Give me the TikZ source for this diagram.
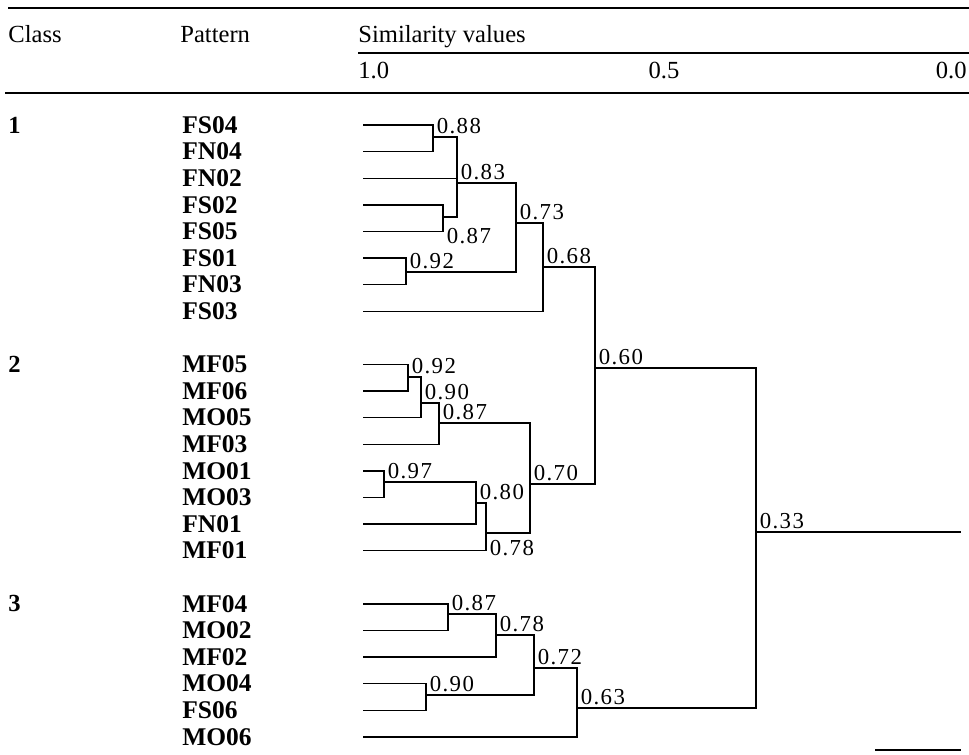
\documentclass[tikz,border=0pt]{standalone}
\usepackage{fontspec}
\setmainfont{Liberation Serif}
\newfontfamily\labfont[LetterSpace=6]{Liberation Serif}
\usetikzlibrary{positioning, calc}

\begin{document}
\begin{tikzpicture}[
    x=0.02cm, y=-0.02cm,
    head/.style={anchor=base west, inner sep=0pt, font=\fontsize{14}{16}\selectfont},
    classnum/.style={anchor=west, inner sep=0pt, font=\fontsize{14}{16}\selectfont\bfseries},
    patname/.style={anchor=west, inner sep=0pt, font=\fontsize{14.5}{16}\selectfont\bfseries},
    simlabel/.style={anchor=south west, inner xsep=2pt, inner ysep=1.5pt, font=\labfont\fontsize{13}{15}\selectfont},
    edge/.style={line width=0.8pt},
    tablerule/.style={line width=1.1pt},
    thinrule/.style={line width=0.8pt}
]
\useasboundingbox (0,0) rectangle (969,754);

% Kopf der Tabelle
\draw[tablerule] (8,8) -- (969,8);
\node[head] (hclass) at (8,42) {Class};
\node[head] (hpat) at (180,42) {Pattern};
\node[head] (hsim) at (358,42) {Similarity values};
\draw[thinrule] (358,53) -- (969,53);
\node[head] (s10) at (358,78) {1.0};
\node[head, anchor=base] (s05) at (664,78) {0.5};
\node[head, anchor=base east] (s00) at (967,78) {0.0};
\draw[tablerule] (5,93) -- (969,93);

% Klassen
\node[classnum] (cl1) at (8,125) {1};
\node[classnum] (cl2) at (8,364.4) {2};
\node[classnum] (cl3) at (8,603.8) {3};

% Muster
\node[patname] (FS04) at (182,125) {FS04};
\node[patname] (FN04) at (182,151.6) {FN04};
\node[patname] (FN02) at (182,178.2) {FN02};
\node[patname] (FS02) at (182,204.8) {FS02};
\node[patname] (FS05) at (182,231.4) {FS05};
\node[patname] (FS01) at (182,258) {FS01};
\node[patname] (FN03) at (182,284.6) {FN03};
\node[patname] (FS03) at (182,311.2) {FS03};
\node[patname] (MF05) at (182,364.4) {MF05};
\node[patname] (MF06) at (182,391) {MF06};
\node[patname] (MO05) at (182,417.6) {MO05};
\node[patname] (MF03) at (182,444.2) {MF03};
\node[patname] (MO01) at (182,470.8) {MO01};
\node[patname] (MO03) at (182,497.4) {MO03};
\node[patname] (FN01) at (182,524) {FN01};
\node[patname] (MF01) at (182,550.6) {MF01};
\node[patname] (MF04) at (182,603.8) {MF04};
\node[patname] (MO02) at (182,630.4) {MO02};
\node[patname] (MF02) at (182,657) {MF02};
\node[patname] (MO04) at (182,683.6) {MO04};
\node[patname] (FS06) at (182,710.2) {FS06};
\node[patname] (MO06) at (182,736.8) {MO06};

% Verzweigungspunkte
\coordinate (lx) at (363,0);
\coordinate (j88) at (433,137);
\coordinate (j87a) at (443,217);
\coordinate (j83) at (457,183);
\coordinate (j92a) at (406,272);
\coordinate (j73) at (516,223);
\coordinate (j68) at (543,267);
\coordinate (j92b) at (408,377);
\coordinate (j90a) at (421,403);
\coordinate (j87b) at (439,423);
\coordinate (j97) at (384,482);
\coordinate (j80) at (476,503);
\coordinate (j78a) at (486,533);
\coordinate (j70) at (530,484);
\coordinate (j60) at (595,368);
\coordinate (j87c) at (448,614);
\coordinate (j78b) at (496,635);
\coordinate (j90b) at (426,695);
\coordinate (j72) at (534,668);
\coordinate (j63) at (577,708);
\coordinate (j33) at (756,532);
\coordinate (root) at (961,532);

% Kanten Klasse 1
\draw[edge] (FS04.west -| lx) -| (j88) |- (FN04.west -| lx);
\draw[edge] (FS02.west -| lx) -| (j87a) |- (FS05.west -| lx);
\draw[edge] (j88) -| (j83) |- (j87a);
\draw[edge] (FN02.west -| lx) -| (j83);
\draw[edge] (FS01.west -| lx) -| (j92a) |- (FN03.west -| lx);
\draw[edge] (j83) -| (j73) |- (j92a);
\draw[edge] (j73) -| (j68) |- (FS03.west -| lx);

% Kanten Klasse 2
\draw[edge] (MF05.west -| lx) -| (j92b) |- (MF06.west -| lx);
\draw[edge] (j92b) -| (j90a) |- (MO05.west -| lx);
\draw[edge] (j90a) -| (j87b) |- (MF03.west -| lx);
\draw[edge] (MO01.west -| lx) -| (j97) |- (MO03.west -| lx);
\draw[edge] (j97) -| (j80) |- (FN01.west -| lx);
\draw[edge] (j80) -| (j78a) |- (MF01.west -| lx);
\draw[edge] (j87b) -| (j70) |- (j78a);
\draw[edge] (j68) -| (j60) |- (j70);

% Kanten Klasse 3
\draw[edge] (MF04.west -| lx) -| (j87c) |- (MO02.west -| lx);
\draw[edge] (j87c) -| (j78b) |- (MF02.west -| lx);
\draw[edge] (MO04.west -| lx) -| (j90b) |- (FS06.west -| lx);
\draw[edge] (j78b) -| (j72) |- (j90b);
\draw[edge] (j72) -| (j63) |- (MO06.west -| lx);
\draw[edge] (j60) -| (j33) |- (j63);
\draw[edge] (j33) -- (root);

% Aehnlichkeitswerte
\node[simlabel] (t88) at (j88) {0.88};
\node[simlabel, anchor=west] (t87a) at (443,236) {0.87};
\node[simlabel] (t83) at (j83) {0.83};
\node[simlabel] (t92a) at (j92a) {0.92};
\node[simlabel] (t73) at (j73) {0.73};
\node[simlabel] (t68) at (j68) {0.68};
\node[simlabel] (t92b) at (j92b) {0.92};
\node[simlabel] (t90a) at (j90a) {0.90};
\node[simlabel] (t87b) at (j87b) {0.87};
\node[simlabel] (t97) at (j97) {0.97};
\node[simlabel] (t80) at (j80) {0.80};
\node[simlabel, anchor=west] (t78a) at (486,548) {0.78};
\node[simlabel] (t70) at (j70) {0.70};
\node[simlabel] (t60) at (j60) {0.60};
\node[simlabel] (t87c) at (j87c) {0.87};
\node[simlabel] (t78b) at (j78b) {0.78};
\node[simlabel] (t90b) at (j90b) {0.90};
\node[simlabel] (t72) at (j72) {0.72};
\node[simlabel] (t63) at (j63) {0.63};
\node[simlabel] (t33) at (j33) {0.33};

\draw[tablerule] (875,750) -- (961,750);

\end{tikzpicture}
\end{document}
